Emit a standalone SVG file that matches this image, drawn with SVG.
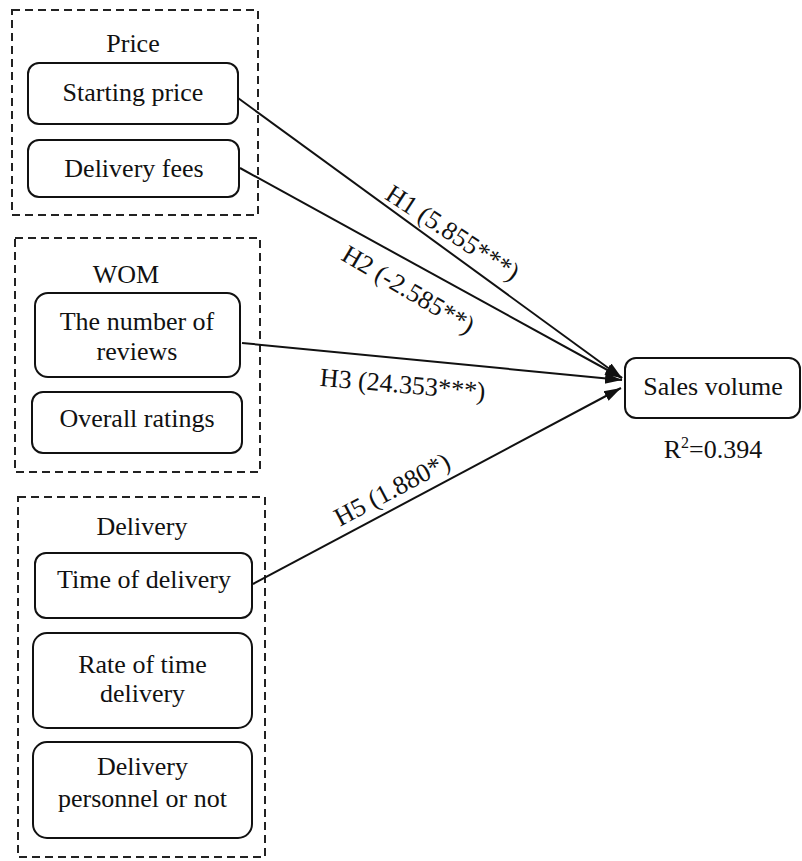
<svg xmlns="http://www.w3.org/2000/svg" width="802" height="861" viewBox="0 0 802 861">
<style>
text{font-family:"Liberation Serif","Times New Roman",serif;font-size:26px;fill:#111;text-anchor:middle}
.grp{fill:none;stroke:#222;stroke-width:2;stroke-dasharray:8 5}
.box{fill:#fff;stroke:#111;stroke-width:2}
.edge{fill:none;stroke:#111;stroke-width:2;marker-end:url(#arr)}
</style>
<defs>
<marker id="arr" markerUnits="userSpaceOnUse" markerWidth="18" markerHeight="14" viewBox="0 0 18 14" refX="17" refY="7" orient="auto">
<path d="M0,1.5 L17,7 L0,12.5 Z" fill="#111"/>
</marker>
</defs>
<g id="group-price">
<rect class="grp" x="12" y="10" width="246" height="205"/>
<text x="133" y="52">Price</text>
</g>
<g id="group-wom">
<rect class="grp" x="15" y="238" width="245" height="234"/>
<text x="126" y="283">WOM</text>
</g>
<g id="group-delivery">
<rect class="grp" x="18" y="497" width="247" height="360"/>
<text x="142" y="535">Delivery</text>
</g>
<g id="starting-price">
<rect class="box" x="28" y="63" width="210" height="61" rx="11"/>
<text x="133" y="101">Starting price</text>
</g>
<g id="delivery-fees">
<rect class="box" x="28" y="140" width="211" height="57" rx="11"/>
<text x="134" y="177">Delivery fees</text>
</g>
<g id="number-of-reviews">
<rect class="box" x="35" y="293" width="205" height="84" rx="13"/>
<text x="137" y="330">The number of</text>
<text x="137" y="360">reviews</text>
</g>
<g id="overall-ratings">
<rect class="box" x="32" y="392" width="210" height="61" rx="11"/>
<text x="137" y="427">Overall ratings</text>
</g>
<g id="time-of-delivery">
<rect class="box" x="35" y="553" width="217" height="65" rx="11"/>
<text x="144" y="588">Time of delivery</text>
</g>
<g id="rate-of-time-delivery">
<rect class="box" x="33" y="633" width="219" height="95" rx="14"/>
<text x="142.5" y="673">Rate of time</text>
<text x="142.5" y="702">delivery</text>
</g>
<g id="delivery-personnel">
<rect class="box" x="33" y="742" width="219" height="96" rx="14"/>
<text x="142.5" y="775">Delivery</text>
<text x="142.5" y="807">personnel or not</text>
</g>
<g id="sales-volume">
<rect class="box" x="625" y="358" width="175" height="60" rx="11"/>
<text x="713" y="395">Sales volume</text>
<text x="713" y="458">R<tspan font-size="16" dy="-10">2</tspan><tspan dy="10">=0.394</tspan></text>
</g>
<g id="connectors">
<line class="edge" x1="238" y1="98" x2="622" y2="378"/>
<line class="edge" x1="240" y1="168" x2="622" y2="378"/>
<line class="edge" x1="242" y1="343" x2="622" y2="380"/>
<line class="edge" x1="253" y1="584" x2="621" y2="388"/>
<text transform="translate(448,240) rotate(33)">H1 (5.855***)</text>
<text transform="translate(404,297) rotate(30.5)">H2 (-2.585**)</text>
<text transform="translate(402,393) rotate(5)">H3 (24.353***)</text>
<text transform="translate(396,497) rotate(-28)">H5 (1.880*)</text>
</g>
</svg>
